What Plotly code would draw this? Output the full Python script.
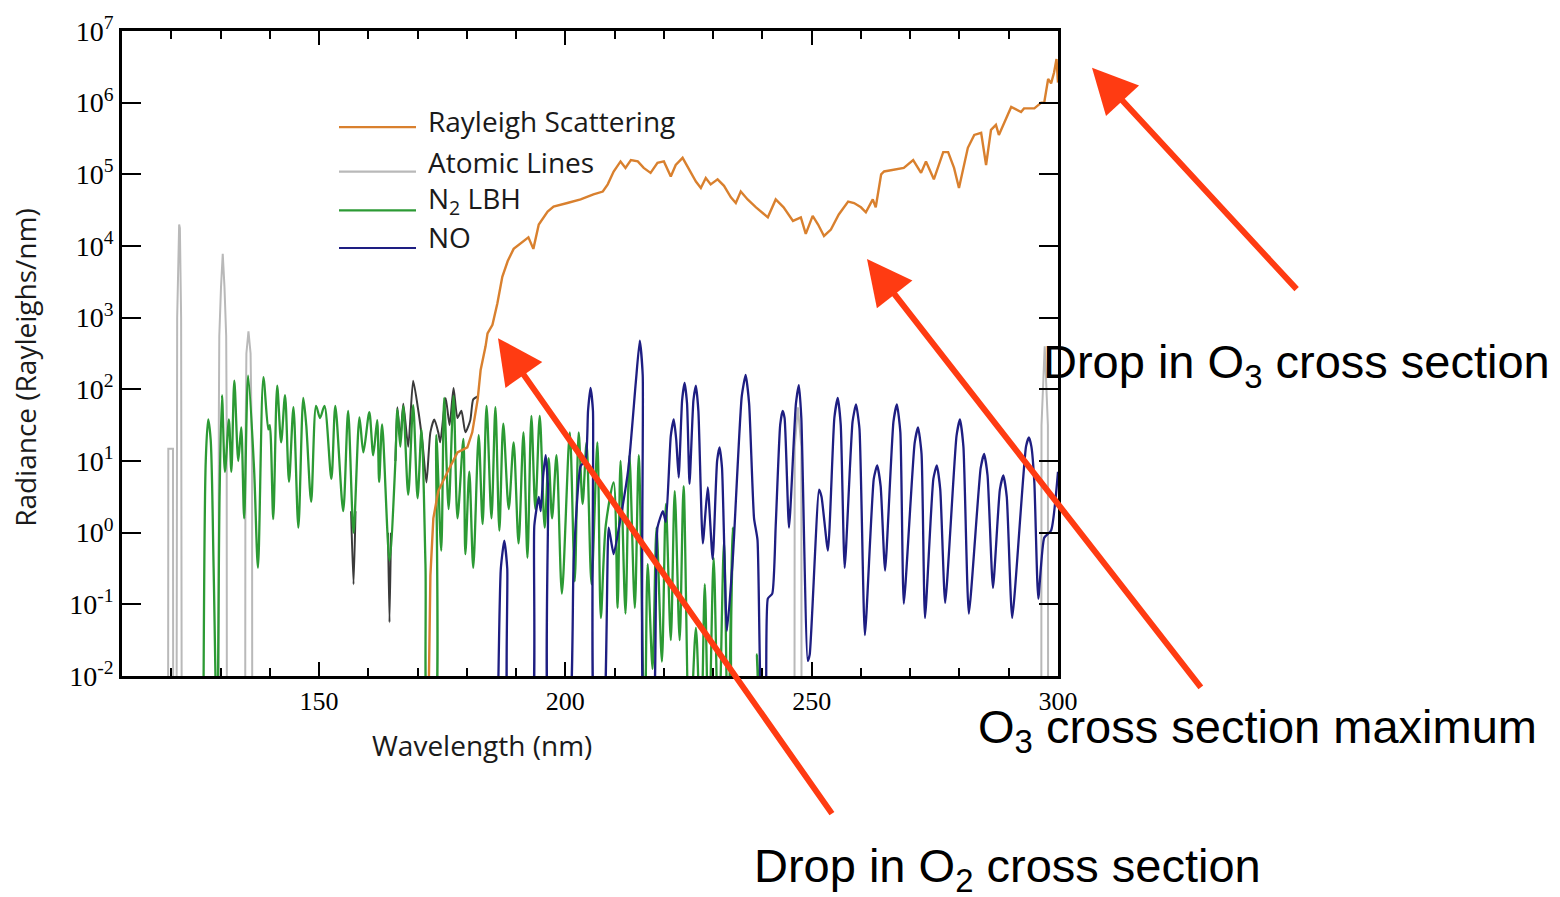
import plotly.graph_objects as go

# ---------------- data (wavelength in nm, log10 radiance in Rayleighs/nm) -------------
rayleigh_wl = [172.1, 172.6, 173.2, 174.2, 176.1, 178.1, 180.1, 181.1, 182.2, 182.8, 183.8, 184.2,
               185.2, 186.2, 187.2, 188.3, 189.5, 191.5, 192.5, 193.5, 194.6, 196.4, 197.6, 200.4,
               203.1, 205.7, 207.6, 208.6, 209.8, 211.2, 212.2, 213.3, 214.7, 215.9, 217.3, 218.7,
               220.0, 221.4, 222.4, 223.8, 225.0, 226.5, 227.5, 228.5, 229.5, 230.9, 232.2, 233.6,
               234.6, 235.6, 237.0, 238.7, 241.1, 242.7, 244.3, 246.2, 247.8, 248.8, 250.2, 251.3,
               252.5, 253.9, 255.5, 257.4, 258.6, 260.0, 261.0, 262.4, 263.0, 264.1, 264.7, 266.1,
               268.7, 270.6, 272.2, 273.2, 274.8, 276.7, 277.7, 278.9, 279.9, 281.7, 283.0, 284.4,
               285.4, 286.4, 287.4, 288.0, 289.1, 290.5, 292.5, 293.1, 295.2, 296.6, 297.2, 298.0,
               298.6, 299.2, 299.7, 300.0]
rayleigh_log = [-3.0, -0.6, 0.2, 0.58, 0.85, 1.12, 1.19, 1.4, 1.86, 2.27, 2.6, 2.78,
                2.9, 3.2, 3.57, 3.79, 3.96, 4.07, 4.12, 3.96, 4.3, 4.48, 4.55, 4.6,
                4.65, 4.72, 4.76, 4.86, 5.04, 5.18, 5.09, 5.2, 5.18, 5.09, 5.02, 5.16,
                5.18, 4.97, 5.13, 5.23, 5.09, 4.9, 4.81, 4.95, 4.86, 4.93, 4.84, 4.68,
                4.6, 4.76, 4.65, 4.54, 4.4, 4.65, 4.54, 4.35, 4.4, 4.17, 4.42, 4.3,
                4.14, 4.23, 4.44, 4.62, 4.6, 4.54, 4.47, 4.65, 4.54, 5.0, 5.04, 5.06,
                5.09, 5.2, 5.02, 5.18, 4.93, 5.31, 5.31, 5.09, 4.81, 5.37, 5.55, 5.58,
                5.13, 5.62, 5.69, 5.55, 5.73, 5.94, 5.87, 5.92, 5.92, 6.0, 6.0, 6.33,
                6.27, 6.42, 6.61, 6.28]

atomic_wl = [110.0, 119.35, 119.4, 120.35, 120.4, 121.05, 121.2, 121.45, 121.6, 121.75, 122.0, 122.15,
             129.6, 129.65, 129.75, 130.1, 130.45, 130.8, 131.15, 131.25, 131.3,
             135.0, 135.05, 135.25, 135.67, 136.1, 136.4, 136.45,
             246.5, 246.55, 247.2, 247.9, 247.95,
             296.6, 296.65, 297.3, 297.95, 298.0, 300.0]
atomic_log = [-4, -4, 1.17, 1.17, -4, -4, 3.0, 4.25, 4.3, 4.25, 3.0, -4,
              -4, 1.5, 2.74, 3.43, 3.89, 3.43, 2.74, 1.5, -4,
              -4, 1.0, 2.5, 2.81, 2.5, 1.0, -4,
              -4, 1.2, 1.75, 1.2, -4,
              -4, 1.5, 2.6, 1.5, -4, -4]

n2lbh_wl = [126.5, 127.0, 127.5, 128.0, 128.6, 129.3, 129.8, 130.3, 130.9, 131.7, 132.2, 132.8,
            133.6, 134.2, 134.8, 135.6, 136.8, 137.6, 138.7, 139.7, 140.0, 140.7, 141.5, 142.3,
            143.1, 143.9, 144.8, 145.8, 146.8, 147.4, 148.4, 149.4, 150.2, 151.1, 152.5, 153.3,
            154.9, 155.9, 157.0, 158.2, 159.0, 160.2, 161.0, 161.8, 162.2, 162.8, 164.3, 165.5,
            165.9, 166.5, 167.1, 168.1, 169.1, 170.0, 170.8, 171.6, 172.4, 173.2, 173.8, 174.8,
            175.4, 176.3, 177.3, 178.1, 179.3, 179.7, 180.5, 181.3, 182.4, 183.2, 184.0, 185.0,
            185.8, 186.6, 187.4, 188.5, 189.5, 190.5, 191.5, 192.3, 193.1, 193.9, 194.8, 195.8,
            196.6, 197.3, 198.2, 199.3, 200.9, 201.9, 202.7, 203.5, 204.3, 205.3, 206.5, 207.2,
            208.2, 209.8, 210.6, 211.2, 212.2, 213.0, 214.1, 214.9, 216.1, 216.7, 217.7, 218.5,
            219.6, 220.4, 221.4, 222.2, 223.2, 224.0, 225.2, 226.5, 227.5, 228.3, 229.1, 230.1,
            231.1, 232.2, 233.0, 234.0, 235.0, 238.4, 238.9, 239.5]
n2lbh_log = [-3.0, 1.0, 1.58, 1.3, -0.5, -3.0, 0.5, 1.92, 0.85, 1.58, 0.85, 2.12,
             1.0, 1.47, 0.2, 2.19, 0.9, -0.49, 2.17, 1.44, 1.5, 0.19, 2.05, 1.26,
             1.92, 0.71, 1.75, 0.07, 1.88, 1.5, 0.43, 1.77, 1.6, 1.77, 0.75, 1.77,
             0.3, 1.7, 0.0, 1.61, 1.12, 1.68, 1.08, 1.57, 0.71, 1.51, -0.39, 1.0,
             1.72, 1.2, 1.77, 0.53, 1.78, 0.48, 1.44, -0.44, -3.0, -3.0, 1.36, -0.25,
             1.88, 0.33, 1.91, 0.2, 1.31, -0.3, 0.85, -0.49, 1.36, 0.12, 1.77, 0.2,
             1.75, 0.03, 1.52, 0.33, 1.26, -0.15, 1.4, -0.35, 1.63, 0.33, 1.63, 0.07,
             1.04, 0.2, 1.08, -0.85, 1.4, -0.68, 1.4, 0.4, 1.26, -0.72, 1.26, -1.19,
             0.1, 0.7, -1.05, 1.0, -1.13, 1.08, -1.05, 1.08, -3.0, -0.44, -1.9, 0.07,
             -1.8, 0.4, -1.5, 0.58, -1.5, 0.65, -3.0, -1.33, -3.0, -0.72, -3.0, -0.35,
             -3.0, -0.11, -3.0, 0.07, -3.0, -3.0, -1.7, -3.0]

no_wl = [186.2, 186.9, 187.6, 188.2, 188.9, 192.7, 193.7, 194.6, 195.0, 195.5, 196.0, 196.5,
         197.1, 200.2, 201.7, 203.1, 204.1, 204.6, 205.1, 205.6, 206.2, 207.4, 208.8, 209.8,
         211.2, 212.8, 214.3, 215.1, 215.7, 216.3, 217.5, 218.7, 219.8, 220.4, 221.4, 222.0,
         222.5, 223.0, 223.7, 224.2, 224.7, 225.2, 226.0, 226.5, 227.0, 227.9, 228.9, 229.9,
         230.8, 231.3, 231.8, 232.8, 234.0, 235.8, 236.6, 237.3, 238.3, 239.0, 240.1, 240.5,
         241.1, 242.0, 242.7, 243.6, 244.1, 244.5, 245.4, 246.8, 247.4, 247.9, 249.2, 249.6,
         251.5, 252.0, 253.3, 254.6, 255.3, 255.9, 256.7, 258.3, 259.0, 259.7, 260.8, 262.6,
         263.3, 264.0, 264.9, 266.6, 267.3, 268.0, 268.7, 270.9, 271.6, 272.3, 273.0, 274.7,
         275.4, 276.1, 277.1, 279.4, 280.1, 280.8, 281.9, 284.3, 285.0, 285.7, 286.8, 288.2,
         288.9, 289.6, 290.7, 293.5, 294.1, 294.6, 295.2, 296.0, 297.2, 298.6, 300.0]
no_log = [-3.0, -0.5, -0.11, -0.5, -3.0, -3.0, 0.1, 0.5, 0.3, 0.8, 1.08, 0.6,
          -3.0, -3.0, -0.37, 0.93, 1.0, 1.7, 2.02, 1.7, -3.0, -3.0, 0.07, -0.3,
          0.2, 0.9, 2.1, 2.68, 2.2, -3.0, -3.0, 0.07, 0.3, 0.15, 1.35, 1.58,
          1.3, 0.77, 1.85, 2.09, 1.8, 0.68, 1.85, 2.05, 1.7, -0.15, 0.63, -0.37,
          1.0, 1.19, 0.9, -1.37, -0.35, 1.9, 2.2, 1.8, 0.2, -0.1, -3.0, -3.0,
          -0.92, -0.85, 0.1, 1.5, 1.7, 1.6, 0.07, 1.8, 2.06, 1.6, -1.79, -1.7,
          0.6, 0.5, -0.25, 1.6, 1.88, 1.5, -0.49, 1.55, 1.79, 1.45, -1.43, 0.75,
          0.94, 0.65, -0.53, 1.55, 1.79, 1.4, -0.99, 1.25, 1.47, 1.1, -1.19, 0.75,
          0.94, 0.6, -0.98, 1.35, 1.58, 1.2, -1.13, 0.9, 1.1, 0.8, -0.77, 0.6,
          0.8, 0.5, -1.19, 1.2, 1.33, 1.2, 0.7, -0.92, -0.07, 0.03, 0.85]

# dark total-emission trace (only where it departs from the N2 LBH curve)
total_wl = [156.5, 157.0, 157.4, None, 164.0, 164.3, 164.6, None,
            165.5, 165.9, 166.5, 167.1, 168.1, 169.1, 170.2, 171.0, 171.8, 172.6, 173.4, 174.2,
            174.6, 175.7, 176.5, 177.3, 178.1, 178.9, 179.7, 180.7, 181.3, 182.2]
total_log = [0.3, -0.72, 0.3, None, 0.0, -1.25, 0.0, None,
             1.0, 1.75, 1.3, 1.8, 1.2, 2.12, 1.68, 1.25, 0.7, 1.4, 1.58, 1.4,
             1.26, 1.88, 1.5, 2.02, 1.6, 1.7, 1.4, 1.57, 1.86, 1.9]

y_tick_vals = [1e-2, 1e-1, 1e0, 1e1, 1e2, 1e3, 1e4, 1e5, 1e6, 1e7]
y_tick_text = ["10<sup>-2</sup>", "10<sup>-1</sup>", "10<sup>0</sup>", "10<sup>1</sup>",
               "10<sup>2</sup>", "10<sup>3</sup>", "10<sup>4</sup>", "10<sup>5</sup>",
               "10<sup>6</sup>", "10<sup>7</sup>"]
x_tick_vals = [150, 200, 250, 300]

legend_names = ["Rayleigh Scattering", "Atomic Lines", "N<sub>2</sub> LBH", "NO"]

# ---------------- styling -------------
C_RAY = "#D9802E"
C_ATOM = "#B9B9B9"
C_N2 = "#2C9A34"
C_NO = "#1E1E82"
C_TOT = "#3A3A3A"
C_ARROW = "#FF3B12"

W, H = 1560, 897
L, R, T, B = 122, 1058, 25, 676


def px(xp):
    return (xp - L) / (R - L)


def py(yp):
    return (B - yp) / (B - T)


def tolin(vals):
    return [None if v is None else 10 ** v for v in vals]


fig = go.Figure()
fig.add_trace(go.Scatter(x=atomic_wl, y=tolin(atomic_log), mode="lines",
                         line=dict(color=C_ATOM, width=2), showlegend=False))
fig.add_trace(go.Scatter(x=total_wl, y=tolin(total_log), mode="lines", connectgaps=False,
                         line=dict(color=C_TOT, width=2, shape="spline", smoothing=0.6),
                         showlegend=False))
fig.add_trace(go.Scatter(x=n2lbh_wl, y=tolin(n2lbh_log), mode="lines",
                         line=dict(color=C_N2, width=2.3, shape="spline", smoothing=0.8),
                         showlegend=False))
fig.add_trace(go.Scatter(x=no_wl, y=tolin(no_log), mode="lines",
                         line=dict(color=C_NO, width=2.3, shape="spline", smoothing=0.5),
                         showlegend=False))
fig.add_trace(go.Scatter(x=rayleigh_wl, y=tolin(rayleigh_log), mode="lines",
                         line=dict(color=C_RAY, width=2.4), showlegend=False))

shapes = []
annotations = []

# legend (drawn manually)
leg_colors = [C_RAY, C_ATOM, C_N2, C_NO]
leg_line_y = [122, 167, 206, 244]
leg_text_y = [116, 157, 196, 233]
for name, col, ly, ty in zip(legend_names, leg_colors, leg_line_y, leg_text_y):
    shapes.append(dict(type="line", xref="paper", yref="paper", x0=px(339), x1=px(416),
                       y0=py(ly), y1=py(ly), line=dict(color=col, width=2.2)))
    annotations.append(dict(xref="paper", yref="paper", x=px(426), y=py(ty), text=name,
                            showarrow=False, xanchor="left", yanchor="middle",
                            font=dict(family="Open Sans", size=28, color="#1a1a1a")))

# axis titles
annotations.append(dict(xref="paper", yref="paper", x=px(482), y=py(746), text="Wavelength (nm)",
                        showarrow=False, xanchor="center", yanchor="middle",
                        font=dict(family="Open Sans", size=28, color="#1a1a1a")))
annotations.append(dict(xref="paper", yref="paper", x=px(25), y=py(365),
                        text="Radiance (Rayleighs/nm)", textangle=-90,
                        showarrow=False, xanchor="center", yanchor="middle",
                        font=dict(family="Open Sans", size=28, color="#1a1a1a")))

# arrows
arrows = [((1092, 62), (1298, 285)), ((867, 255), (1202, 685)), ((498, 335), (833, 812))]
for (hx, hy), (tx, ty) in arrows:
    annotations.append(dict(xref="paper", yref="paper", x=px(hx), y=py(hy), text="",
                            showarrow=True, ax=tx - hx, ay=ty - hy, arrowhead=2,
                            arrowsize=1.5, arrowwidth=6, arrowcolor=C_ARROW, standoff=0))

# callout texts
callouts = [("Drop in O<sub>3</sub> cross section", 1041, 362),
            ("O<sub>3</sub> cross section maximum", 976, 731),
            ("Drop in O<sub>2</sub> cross section", 752, 871)]
for txt, x0, y0 in callouts:
    annotations.append(dict(xref="paper", yref="paper", x=px(x0), y=py(y0), text=txt,
                            showarrow=False, xanchor="left", yanchor="middle",
                            font=dict(family="Liberation Sans", size=47, color="black")))

fig.update_layout(
    width=W, height=H,
    margin=dict(l=L, r=W - R, t=T, b=H - B, pad=0),
    paper_bgcolor="white", plot_bgcolor="white",
    shapes=shapes, annotations=annotations,
    showlegend=False,
)
fig.update_xaxes(range=[110, 300], tickvals=x_tick_vals, ticks="inside", ticklen=14,
                 tickwidth=2, tickcolor="black", showline=True, linecolor="black",
                 linewidth=2.5, mirror="allticks", showgrid=False, zeroline=False,
                 tickfont=dict(family="Liberation Serif", size=26, color="black"),
                 minor=dict(dtick=10, tick0=0, ticks="inside", ticklen=8, tickwidth=2,
                            tickcolor="black", showgrid=False))
fig.update_yaxes(type="log", range=[-2, 7], tickvals=y_tick_vals, ticktext=y_tick_text,
                 ticks="inside", ticklen=19, tickwidth=2, tickcolor="black", showline=True,
                 linecolor="black", linewidth=2.5, mirror="allticks", showgrid=False,
                 zeroline=False,
                 tickfont=dict(family="Liberation Serif", size=28, color="black"))

fig.write_html("out.html")
